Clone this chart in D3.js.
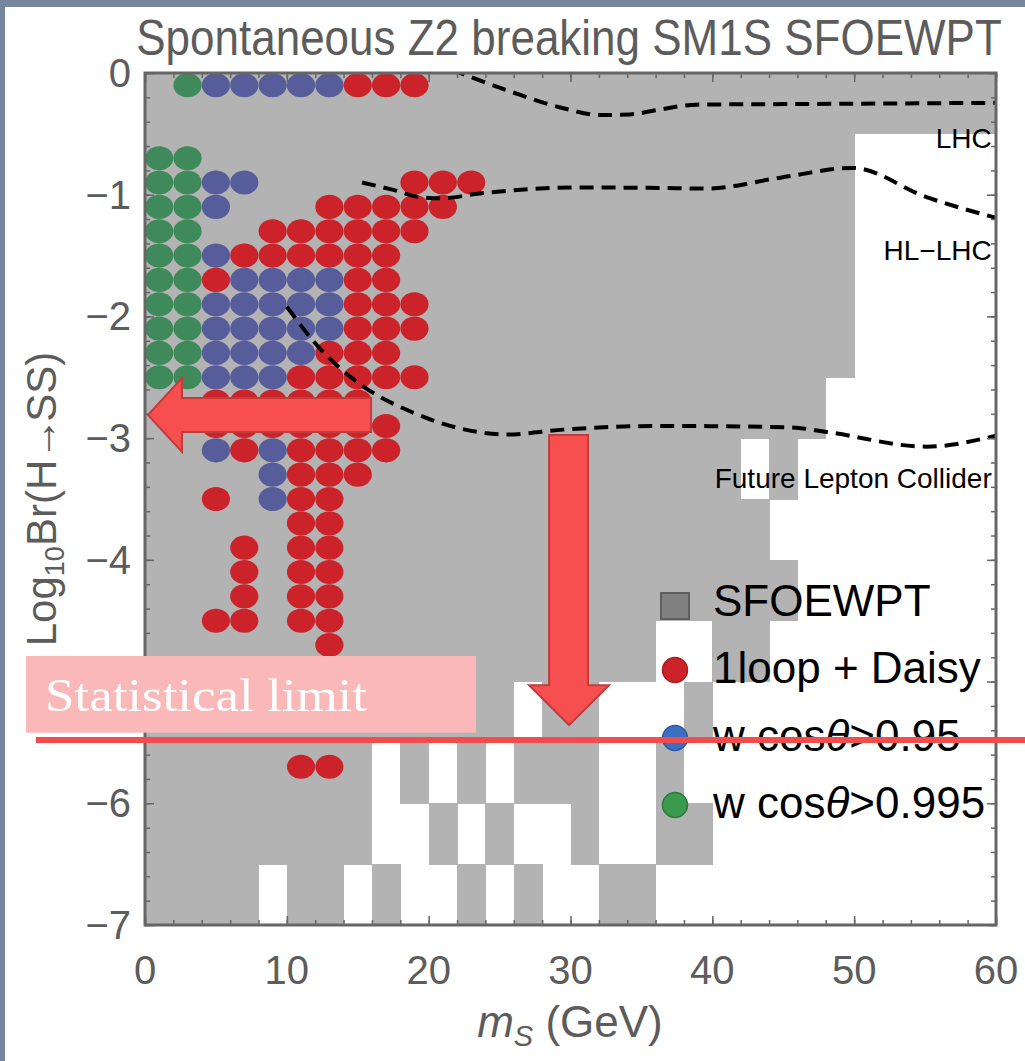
<!DOCTYPE html>
<html>
<head>
<meta charset="utf-8">
<script src="https://cdn.jsdelivr.net/npm/d3@7"></script>
<style>
  html, body { margin: 0; padding: 0; background: #fff; }
  svg { display: block; }
  text { font-family: "Liberation Sans", Arial, Helvetica, sans-serif; }
  text.serif { font-family: "Liberation Serif", "DejaVu Serif", serif; }
</style>
</head>
<body>
<svg id="chart" width="1025" height="1061"></svg>
<script>
// ---- data -------------------------------------------------------------
// mass bin edges (GeV) and log10 Br band edges of the SFOEWPT scan grid
const massEdges = d3.range(0, 62, 2);      // 0 .. 60
const brEdges = d3.range(0, -7.5, -0.5);   // 0 .. -7

// SFOEWPT region: one string per log10 Br band (top to bottom), one char per 2 GeV mass bin
const sfoewptRows = [
  "111111111111111111111111111111",
  "111111111111111111111111100000",
  "111111111111111111111111100000",
  "111111111111111111111111100000",
  "111111111111111111111111100000",
  "111111111111111111111111000000",
  "111111111111111111111010000000",
  "111111111111111111111100000000",
  "111111111111111111111110000000",
  "111111111111111111001100000000",
  "111111111111101100010000000000",
  "111111110101011100100000000000",
  "111111110010100100110000000000",
  "111101101001010011000000000000"
];

// benchmark points: [log10 Br, [m_S values]]
const daisyRows = [
  [-0.1, [15, 17, 19]],
  [-0.9, [19, 21, 23]],
  [-1.1, [13, 15, 17, 19, 21]],
  [-1.3, [9, 11, 13, 15, 17, 19]],
  [-1.5, [7, 9, 11, 13, 15, 17]],
  [-1.7, [5, 15, 17]],
  [-1.9, [15, 17, 19]],
  [-2.1, [15, 17, 19]],
  [-2.3, [13, 15, 17]],
  [-2.5, [11, 13, 15, 17, 19]],
  [-2.7, [5, 7, 9, 11, 13, 15]],
  [-2.9, [5, 7, 9, 11, 13, 15, 17]],
  [-3.1, [7, 11, 13, 15, 17]],
  [-3.3, [11, 13, 15]],
  [-3.5, [5, 11, 13]],
  [-3.7, [11, 13]],
  [-3.9, [7, 11, 13]],
  [-4.1, [7, 11, 13]],
  [-4.3, [7, 11, 13]],
  [-4.5, [5, 7, 11, 13]],
  [-4.7, [13]],
  [-5.7, [11, 13]]
];
const cos095Rows = [
  [-0.1, [5, 7, 9, 11, 13]],
  [-0.9, [5, 7]],
  [-1.1, [5]],
  [-1.5, [5]],
  [-1.7, [7, 9, 11, 13]],
  [-1.9, [5, 7, 9, 11, 13]],
  [-2.1, [5, 7, 9, 11, 13]],
  [-2.3, [5, 7, 9, 11]],
  [-2.5, [5, 7, 9]],
  [-3.1, [5, 9]],
  [-3.3, [9]],
  [-3.5, [9]]
];
const cos0995Rows = [
  [-0.1, [3]],
  [-0.7, [1, 3]],
  [-0.9, [1, 3]],
  [-1.1, [1, 3]],
  [-1.3, [1, 3]],
  [-1.5, [1, 3]],
  [-1.7, [1, 3]],
  [-1.9, [1, 3]],
  [-2.1, [1, 3]],
  [-2.3, [1, 3]],
  [-2.5, [1, 3]]
];

// projected sensitivity curves: [m_S, log10 Br]
const lhcCurve = [[21.6, 0.03], [22.9, -0.03], [25.95, -0.16], [29.5, -0.29], [32.1, -0.345],
  [34.2, -0.34], [36.3, -0.30], [38.9, -0.26], [46.2, -0.255], [60, -0.245]];
const hlLhcCurve = [[15.3, -0.90], [17.5, -0.96], [19.4, -1.02], [20.8, -1.03], [23.6, -0.99],
  [30.7, -0.94], [36.3, -0.945], [39.6, -0.95], [44.8, -0.86], [49.9, -0.78], [55.1, -1.02], [60, -1.19]];
const leptonCurve = [[10.0, -1.92], [12.3, -2.26], [15.2, -2.56], [18.9, -2.79], [22.2, -2.92],
  [25.5, -2.97], [29.5, -2.93], [36.3, -2.90], [45.3, -2.91], [48.1, -2.95], [55.1, -3.07], [60, -2.98]];

const xMajor = [0, 10, 20, 30, 40, 50, 60];
const yMajor = [0, -1, -2, -3, -4, -5, -6, -7];
const xMinor = d3.range(0, 61, 2);
const yMinor = d3.range(0, -71, -2).map(v => v / 10);

const legendLabels = ["SFOEWPT", "1loop + Daisy", "w cos\u03B8>0.95", "w cos\u03B8>0.995"];

// ---- layout -----------------------------------------------------------
const W = 1025, H = 1061;
const svg = d3.select("#chart");
const x = d3.scaleLinear().domain([0, 60]).range([145, 996]);
const y = d3.scaleLinear().domain([0, -7]).range([73, 925]);

const colors = {
  region: "#b3b3b3",
  daisy: "#cc2229",
  c95: "#575c9b",
  c995: "#3f8a5b",
  frame: "#666666",
  label: "#5c5c5c",
  slate: "#76869e"
};

svg.append("rect").attr("width", W).attr("height", H).attr("fill", "#fff");
svg.append("rect").attr("x", 0).attr("y", 0).attr("width", 5).attr("height", H).attr("fill", colors.slate);
svg.append("rect").attr("x", 0).attr("y", 0).attr("width", W).attr("height", 7).attr("fill", colors.slate);

svg.append("defs").append("clipPath").attr("id", "plotClip")
  .append("rect")
  .attr("x", x(0)).attr("y", y(0))
  .attr("width", x(60) - x(0)).attr("height", y(-7) - y(0));

const plot = svg.append("g").attr("clip-path", "url(#plotClip)");

// SFOEWPT cells
const cells = [];
sfoewptRows.forEach((row, r) => {
  row.split("").forEach((v, c) => {
    if (v === "1") cells.push({ m0: massEdges[c], m1: massEdges[c + 1], b0: brEdges[r], b1: brEdges[r + 1] });
  });
});
plot.append("g").selectAll("rect").data(cells).join("rect")
  .attr("x", d => x(d.m0))
  .attr("y", d => y(d.b0))
  .attr("width", d => x(d.m1) - x(d.m0) + 0.5)
  .attr("height", d => y(d.b1) - y(d.b0) + 0.5)
  .attr("fill", colors.region)
  .attr("shape-rendering", "crispEdges");

// benchmark points
const flatten = rows => rows.flatMap(([b, ms]) => ms.map(m => ({ m, b })));
const dotLayers = [
  { pts: flatten(daisyRows), color: colors.daisy },
  { pts: flatten(cos095Rows), color: colors.c95 },
  { pts: flatten(cos0995Rows), color: colors.c995 }
];
const rx = (x(2) - x(0)) / 2 - 0.1;
const ry = (y(0) - y(0.2)) / 2 - 0.1;
dotLayers.forEach(layer => {
  plot.append("g").selectAll("ellipse").data(layer.pts).join("ellipse")
    .attr("cx", d => x(d.m))
    .attr("cy", d => y(d.b))
    .attr("rx", rx)
    .attr("ry", ry)
    .attr("fill", layer.color);
});

// sensitivity curves
const line = d3.line().x(d => x(d[0])).y(d => y(d[1])).curve(d3.curveMonotoneX);
[lhcCurve, hlLhcCurve, leptonCurve].forEach(curve => {
  plot.append("path")
    .attr("d", line(curve))
    .attr("fill", "none")
    .attr("stroke", "#000")
    .attr("stroke-width", 4)
    .attr("stroke-dasharray", "14,8");
});

// curve labels
const curveLabels = [
  { text: "LHC", b: -0.62 },
  { text: "HL\u2212LHC", b: -1.54 },
  { text: "Future Lepton Collider", b: -3.41 }
];
svg.append("g").selectAll("text").data(curveLabels).join("text")
  .attr("x", x(59.7))
  .attr("y", d => y(d.b))
  .attr("text-anchor", "end")
  .attr("font-size", 28)
  .attr("fill", "#000")
  .text(d => d.text);

// frame and ticks
svg.append("rect")
  .attr("x", x(0)).attr("y", y(0))
  .attr("width", x(60) - x(0)).attr("height", y(-7) - y(0))
  .attr("fill", "none").attr("stroke", colors.frame).attr("stroke-width", 3);

function tickAxis(axisFn, scale, values, size, tx, ty) {
  const g = svg.append("g").attr("transform", `translate(${tx},${ty})`)
    .call(axisFn(scale).tickValues(values).tickSize(size).tickFormat(""));
  g.select(".domain").remove();
  g.selectAll("line").attr("stroke", colors.frame).attr("stroke-width", 1.5);
  return g;
}
tickAxis(d3.axisBottom, x, xMinor, -5, 0, y(-7));
tickAxis(d3.axisBottom, x, xMajor, -9, 0, y(-7));
tickAxis(d3.axisTop, x, xMinor, -5, 0, y(0));
tickAxis(d3.axisTop, x, xMajor, -9, 0, y(0));
tickAxis(d3.axisLeft, y, yMinor, -5, x(0), 0);
tickAxis(d3.axisLeft, y, yMajor, -9, x(0), 0);
tickAxis(d3.axisRight, y, yMinor, -5, x(60), 0);
tickAxis(d3.axisRight, y, yMajor, -9, x(60), 0);

// tick labels (the -5 label sits under the statistical-limit band)
const fmt = v => (v < 0 ? "\u2212" + Math.abs(v) : String(v));
svg.append("g").selectAll("text").data(xMajor).join("text")
  .attr("x", d => x(d)).attr("y", 984)
  .attr("text-anchor", "middle").attr("font-size", 40).attr("fill", colors.label)
  .text(fmt);
svg.append("g").selectAll("text").data(yMajor.filter(v => v !== -5)).join("text")
  .attr("x", 131).attr("y", d => y(d) + 14)
  .attr("text-anchor", "end").attr("font-size", 40).attr("fill", colors.label)
  .text(fmt);

// axis titles
const xt = svg.append("text").attr("x", 570).attr("y", 1037)
  .attr("text-anchor", "middle").attr("font-size", 44).attr("fill", colors.label);
xt.append("tspan").attr("font-style", "italic").text("m");
xt.append("tspan").attr("font-style", "italic").attr("font-size", 29).attr("dy", 9).text("S");
xt.append("tspan").attr("dy", -9).text(" (GeV)");

const yt = svg.append("text")
  .attr("transform", `translate(56,${(y(0) + y(-7)) / 2}) rotate(-90)`)
  .attr("text-anchor", "middle").attr("font-size", 42).attr("fill", colors.label);
yt.append("tspan").text("Log");
yt.append("tspan").attr("font-size", 27).attr("dy", 8).text("10");
yt.append("tspan").attr("dy", -8).text("Br(H");
yt.append("tspan").attr("letter-spacing", -4).text("\u2192");
yt.append("tspan").text("SS)");

// title (slightly tall, narrow lettering)
svg.append("text")
  .attr("transform", "translate(569,55) scale(1,1.12)")
  .attr("text-anchor", "middle").attr("font-size", 44).attr("fill", colors.label)
  .text("Spontaneous Z2 breaking SM1S SFOEWPT");

// legend
const lg = svg.append("g");
const lx = 675, ltx = 713;
const lys = [606, 670, 738, 805];
lg.append("rect").attr("x", lx - 14).attr("y", lys[0] - 13).attr("width", 28).attr("height", 26)
  .attr("fill", "#808080").attr("stroke", "#5f5f5f").attr("stroke-width", 2);
[["#cc2229", "#a81c22"], ["#3b6fc4", "#2f5aa0"], ["#3a9a4e", "#2e7a3e"]].forEach((c, i) => {
  lg.append("circle").attr("cx", lx).attr("cy", lys[i + 1]).attr("r", 12.5)
    .attr("fill", c[0]).attr("stroke", c[1]).attr("stroke-width", 1.5);
});
legendLabels.forEach((t, i) => {
  const tx = lg.append("text").attr("x", ltx).attr("y", lys[i] + 13 + (i === 0 ? -3 : 0))
    .attr("font-size", 44).attr("fill", "#000");
  if (t.includes("\u03B8")) {
    const [a, b] = t.split("\u03B8");
    tx.append("tspan").text(a);
    tx.append("tspan").attr("font-style", "italic").text("\u03B8");
    tx.append("tspan").text(b);
  } else {
    tx.text(t);
  }
});

// annotations: arrows, statistical limit band
const arrowFill = "#f74f4f", arrowStroke = "#c23c3c";
const leftArrow = [[0.21, -2.81], [2.61, -2.506], [2.61, -2.67], [15.94, -2.67], [15.94, -2.95],
  [2.61, -2.95], [2.61, -3.114]];
svg.append("path")
  .attr("d", d3.line().x(d => x(d[0])).y(d => y(d[1]))(leftArrow) + "Z")
  .attr("fill", arrowFill).attr("stroke", arrowStroke).attr("stroke-width", 2).attr("stroke-linejoin", "miter");
const downArrow = [[28.49, -2.975], [31.24, -2.975], [31.24, -5.03], [32.72, -5.03], [29.9, -5.357],
  [27.08, -5.03], [28.49, -5.03]];
svg.append("path")
  .attr("d", d3.line().x(d => x(d[0])).y(d => y(d[1]))(downArrow) + "Z")
  .attr("fill", arrowFill).attr("stroke", arrowStroke).attr("stroke-width", 2).attr("stroke-linejoin", "miter");

svg.append("rect")
  .attr("x", x(-8.39)).attr("y", y(-4.79))
  .attr("width", x(23.34) - x(-8.39)).attr("height", y(-5.42) - y(-4.79))
  .attr("fill", "#fbb8b8");
svg.append("text")
  .attr("class", "serif")
  .attr("x", x(-7.05)).attr("y", 711)
  .attr("font-size", 46).attr("fill", "#fff")
  .attr("textLength", 322).attr("lengthAdjust", "spacingAndGlyphs")
  .text("Statistical limit");
svg.append("line")
  .attr("x1", x(-7.69)).attr("x2", x(62.1))
  .attr("y1", y(-5.48)).attr("y2", y(-5.48))
  .attr("stroke", "#f24c4c").attr("stroke-width", 6);
</script>
</body>
</html>
